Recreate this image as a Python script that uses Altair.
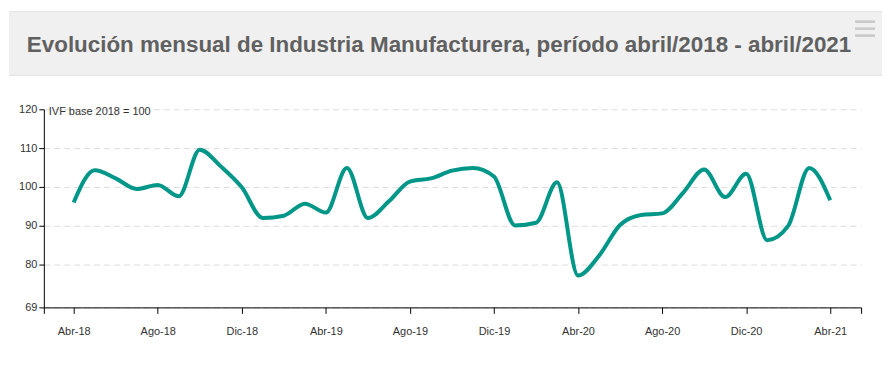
import json
import altair as alt
import pandas as pd

# ---- data ----
months = ["Abr-18", "May-18", "Jun-18", "Jul-18", "Ago-18", "Sep-18", "Oct-18", "Nov-18", "Dic-18",
          "Ene-19", "Feb-19", "Mar-19", "Abr-19", "May-19", "Jun-19", "Jul-19", "Ago-19", "Sep-19",
          "Oct-19", "Nov-19", "Dic-19", "Ene-20", "Feb-20", "Mar-20", "Abr-20", "May-20", "Jun-20",
          "Jul-20", "Ago-20", "Sep-20", "Oct-20", "Nov-20", "Dic-20", "Ene-21", "Feb-21", "Mar-21",
          "Abr-21"]
ivf = [96.0, 104.3, 102.2, 99.5, 100.5, 97.6, 109.6, 105.3, 99.9,
       92.0, 92.6, 95.7, 93.4, 104.9, 92.0, 96.3, 101.4, 102.2,
       104.2, 104.9, 102.7, 90.1, 90.8, 101.2, 77.2, 82.3, 90.2,
       92.8, 93.2, 98.5, 104.5, 97.4, 103.4, 86.3, 90.0, 104.9,
       96.6]
tick_labels = ["Abr-18", "Ago-18", "Dic-18", "Abr-19", "Ago-19", "Dic-19", "Abr-20", "Ago-20", "Dic-20", "Abr-21"]
y_ticks = [69, 80, 90, 100, 110, 120]
title_text = "Evolución mensual de Industria Manufacturera, período abril/2018 - abril/2021"
note_text = "IVF base 2018 = 100"

df = pd.DataFrame({"i": list(range(len(months))), "mes": months, "ivf": ivf})

x_min, x_max = -1.42, 37.47
x_ticks = [x_min] + [4 * k for k in range(len(tick_labels))] + [x_max]
label_expr = ("datum.value >= 0 && datum.value % 4 == 0 ? " + json.dumps(tick_labels)
              + "[datum.value / 4] : ''")

FONT = "Liberation Sans"

x_enc = alt.X("i:Q",
              scale=alt.Scale(domain=[x_min, x_max], nice=False, zero=False),
              axis=alt.Axis(values=x_ticks, labelExpr=label_expr, title=None, grid=False,
                            domainColor="#000", tickColor="#000", tickSize=6,
                            labelPadding=12, labelFontSize=11, labelColor="#333",
                            labelFont=FONT, labelFlush=False))
y_enc = alt.Y("ivf:Q",
              scale=alt.Scale(domain=[69, 120], nice=False, zero=False),
              axis=alt.Axis(values=y_ticks, title=None, grid=True, gridColor="#dcdcdc",
                            gridDash=[6, 4], domainColor="#000", tickColor="#000",
                            tickSize=5, labelPadding=2, labelFontSize=11, labelColor="#333",
                            labelFont=FONT))

line = alt.Chart(df).mark_line(color="#009688", strokeWidth=4, interpolate="monotone").encode(
    x=x_enc, y=y_enc)

one = alt.Data(values=[{"a": 1}])

box = alt.Chart(one).mark_rect(fill="#f0f0f0").encode(
    x=alt.value(-35), x2=alt.value(842), y=alt.value(-98), y2=alt.value(-34))
border_top = alt.Chart(one).mark_rule(color="#e2e2e2", strokeWidth=1).encode(
    x=alt.value(-35), x2=alt.value(842), y=alt.value(-98))
border_bot = alt.Chart(one).mark_rule(color="#e2e2e2", strokeWidth=1).encode(
    x=alt.value(-35), x2=alt.value(842), y=alt.value(-34))
title = alt.Chart(one).mark_text(text=title_text, font=FONT, fontSize=22.5, fontWeight="bold",
                                 color="#606060", align="center", baseline="alphabetic").encode(
    x=alt.value(397), y=alt.value(-58))
menu = [alt.Chart(one).mark_rule(color="#c8c8c8", strokeWidth=2.5).encode(
    x=alt.value(815), x2=alt.value(835), y=alt.value(yy)) for yy in (-88, -81, -74)]
note = alt.Chart(one).mark_text(text=note_text, font=FONT, fontSize=11, color="#333",
                                align="left", baseline="middle").encode(
    x=alt.value(5), y=alt.value(3))

chart = alt.layer(box, border_top, border_bot, title, *menu, line, note).properties(
    width=821, height=199, padding={"left": 0, "top": 2, "right": 0, "bottom": 0}
).configure(background="white").configure_view(stroke=None)

chart.save("out.html", embed_options={"renderer": "svg", "actions": False})
